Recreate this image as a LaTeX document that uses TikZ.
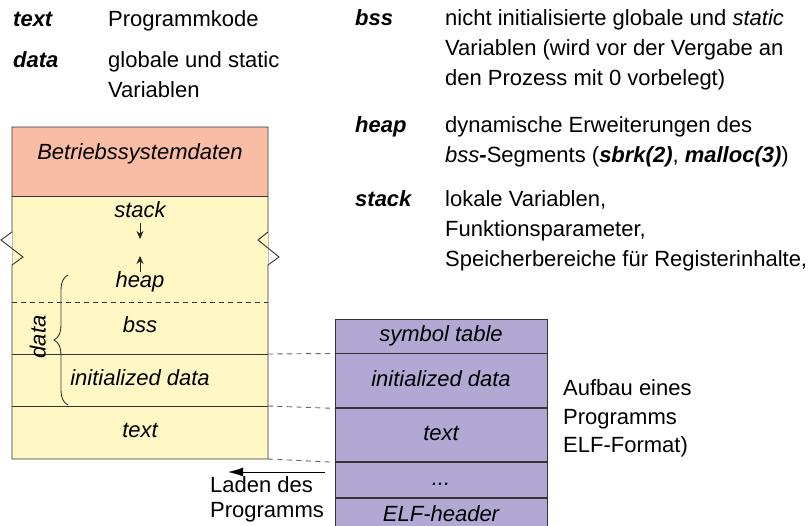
\documentclass[tikz,border=0pt]{standalone}
\usepackage{fontspec}
\setmainfont{Liberation Sans}
\definecolor{osred}{RGB}{249,189,166}
\definecolor{memyellow}{RGB}{255,248,196}
\definecolor{elfviolet}{RGB}{177,169,212}
\usetikzlibrary{positioning, arrows.meta, decorations.pathreplacing}
\tikzset{
    seg/.style={
           rectangle,
           draw=black!80, line width=0.9pt,
           fill=elfviolet,
           minimum width=212pt,
           inner sep=0pt,
           text height=16pt, text depth=5pt,
           font=\fontsize{22}{26}\selectfont\itshape,
           },
    lbl/.style={inner sep=0pt, text height=16pt, text depth=5pt,
           font=\fontsize{22}{26}\selectfont\itshape},
    legend/.style={anchor=base west, inner sep=0pt, align=left,
           font=\fontsize{22}{30}\selectfont},
    boxline/.style={draw=black!80, line width=0.9pt},
    loaddash/.style={draw=black!60, line width=0.9pt, dash pattern=on 5pt off 4.5pt},
}
\newcommand{\term}[1]{\textbf{\textit{#1}}}

\begin{document}
\begin{tikzpicture}[x=1pt, y=-1pt, >={Stealth[length=8pt,width=7pt]}]
  \useasboundingbox (0,0) rectangle (809,526);

  \node[legend] (kText)  at ( 13, 27) {\term{text}};
  \node[legend] (dText)  at (108, 27) {Programmkode};
  \node[legend] (kData)  at ( 13, 68) {\term{data}};
  \node[legend] (dData)  at (108, 98) {globale und static\\Variablen};
  \node[legend] (kBss)   at (355, 26) {\term{bss}};
  \node[legend] (dBss)   at (445, 86) {nicht initialisierte globale und \textit{static}\\Variablen (wird vor der Vergabe an\\den Prozess mit 0 vorbelegt)};
  \node[legend] (kHeap)  at (355,133) {\term{heap}};
  \node[legend] (dHeap)  at (445,163) {dynamische Erweiterungen des\\\textit{bss}\textbf{-}Segments (\term{sbrk(2)}, \term{malloc(3)})};
  \node[legend] (kStack) at (355,207) {\term{stack}};
  \node[legend] (dStack) at (445,267) {lokale Variablen,\\Funktionsparameter,\\Speicherbereiche f\"ur Registerinhalte,};

  \fill[osred]     (12,127) rectangle (268,196);
  \fill[memyellow] (12,196) rectangle (268,459);
  \draw[black!25, line width=0.9pt] (12,232) -- (12,265) (268,232) -- (268,265);
  \draw[boxline] (12,232) -- (12,127) -- (268,127) -- (268,232) -- (258,240) -- (279,257) -- (268,265)
                 -- (268,459) -- (12,459) -- (12,265) -- (23,257) -- (1,240) -- cycle;
  \draw[boxline] (12,196) -- (268,196);
  \draw[boxline, dash pattern=on 5pt off 4pt] (12,302) -- (268,302);
  \draw[boxline] (12,354) -- (268,354);
  \draw[boxline] (12,406) -- (268,406);
  \coordinate (lb1) at (268,354);
  \coordinate (lb2) at (268,406);
  \coordinate (lb3) at (268,459);

  \node[lbl] (oslbl)    at (140,154.5) {Betriebssystemdaten};
  \node[lbl] (stacklbl) at (140,212.5) {stack};
  \node[lbl] (heaplbl)  at (140,282.5) {heap};
  \node[lbl] (bsslbl)   at (140,327.5) {bss};
  \node[lbl] (initlbl)  at (140,380.5) {initialized data};
  \node[lbl] (textlbl)  at (140,432.5) {text};
  \coordinate (stacktip) at (140,239);
  \coordinate (heaptip)  at (140,256);
  \draw[->, black!85, line width=0.9pt] (stacklbl) -- (stacktip);
  \draw[->, black!85, line width=0.9pt] (heaplbl)  -- (heaptip);

  \draw[boxline, decorate, decoration={brace, amplitude=14pt}] (68,405) -- (68,275);
  \node[lbl, rotate=90] (datalbl) at (40,337) {data};

  \node[seg, minimum height=34pt] (sym)   at (441,336)    {symbol table};
  \node[seg, minimum height=54pt] (rinit) [below=0pt of sym]   {initialized data};
  \node[seg, minimum height=53pt] (rtext) [below=0pt of rinit] {text};
  \node[seg, minimum height=35pt] (rdots) [below=0pt of rtext] {...};
  \node[seg, minimum height=34pt] (relf)  [below=0pt of rdots] {ELF-header};

  \draw[loaddash] (lb1) -- (sym.south west);
  \draw[loaddash] (lb2) -- (rinit.south west);
  \draw[loaddash] (lb3) -- (rtext.south west);

  \coordinate (loadfrom) at (325,472);
  \coordinate (loadto)   at (228,472);
  \draw[-{Latex[length=15pt,width=9pt]}, black, line width=0.9pt] (loadfrom) -- (loadto);
  \node[legend, font=\fontsize{22}{25}\selectfont] (loadlbl) at (210,518) {Laden des\\Programms};
  \node[legend, font=\fontsize{22}{28.5}\selectfont] (caption) at (563,453) {Aufbau eines\\Programms\\ELF-Format)};
\end{tikzpicture}
\end{document}
